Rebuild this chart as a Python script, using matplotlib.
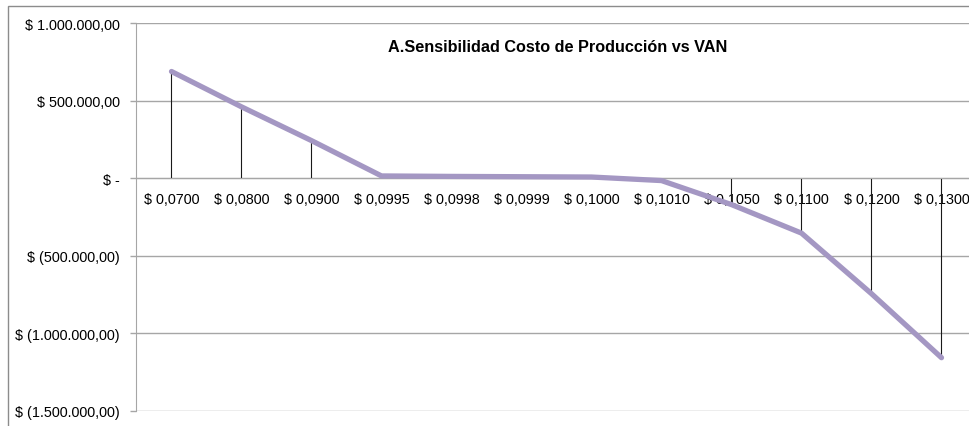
import matplotlib
matplotlib.use("Agg")
import matplotlib.pyplot as plt
from matplotlib.patches import Rectangle
from matplotlib.ticker import FixedLocator

categories = ["$ 0,0700", "$ 0,0800", "$ 0,0900", "$ 0,0995", "$ 0,0998", "$ 0,0999",
              "$ 0,1000", "$ 0,1010", "$ 0,1050", "$ 0,1100", "$ 0,1200", "$ 0,1300"]
van = [689000, 461000, 243000, 15000, 12000, 10000, 8000, -15000,
       -170000, -354000, -745000, -1158000]
y_ticks = [1000000, 500000, 0, -500000, -1000000, -1500000]
y_labels = ["$ 1.000.000,00", "$ 500.000,00", "$ -", "$ (500.000,00)",
            "$ (1.000.000,00)", "$ (1.500.000,00)"]
title = "A.Sensibilidad Costo de Producción vs VAN"

plt.rcParams['font.family'] = ['Liberation Sans', 'DejaVu Sans']

W, H = 970, 427
fig = plt.figure(figsize=(W / 100, H / 100), dpi=100)
fig.patch.set_facecolor('white')

# chart area border
fig.patches.append(Rectangle((8 / W, -0.2), 2.0, 1.2 - 7 / H, transform=fig.transFigure,
                             fill=False, edgecolor='#8c8c8c', linewidth=1.0))

left, right, top, bottom = 136.5, 976.5, 24.3, 411.7
ax = fig.add_axes([left / W, 1 - bottom / H, (right - left) / W, (bottom - top) / H])

x = list(range(len(categories)))
grid_c = '#a6a6a6'
for yt in y_ticks:
    ax.axhline(yt, color=grid_c, linewidth=1.0, zorder=1)

ax.vlines(x, 0, van, color='#1a1a1a', linewidth=0.8, zorder=2)
ax.plot(x, van, color='#a497c3', linewidth=3.8, solid_capstyle='round',
        solid_joinstyle='round', zorder=3)

ax.set_xlim(-0.5, len(categories) - 0.5)
ax.set_ylim(-1500000, 1000000)

ax.yaxis.set_major_locator(FixedLocator(y_ticks))
ax.set_yticklabels(y_labels)
ax.tick_params(axis='y', length=4, width=1.0, color=grid_c, pad=8, labelsize=10.4,
               labelcolor='black')

ax.set_xticks(x)
ax.set_xticklabels(categories)
ax.tick_params(axis='x', length=0, pad=10, labelsize=10.4, labelcolor='black')
ax.spines['bottom'].set_position(('data', 0))
ax.spines['bottom'].set_color(grid_c)
ax.spines['top'].set_visible(False)
ax.spines['right'].set_visible(False)
ax.spines['left'].set_color(grid_c)
for lab in ax.get_xticklabels():
    lab.set_zorder(5)

fig.text(558 / W, 1 - 47 / H, title, ha='center', va='center', fontsize=11.7,
         fontweight='bold', color='black')

fig.savefig('out.png', dpi=100)
